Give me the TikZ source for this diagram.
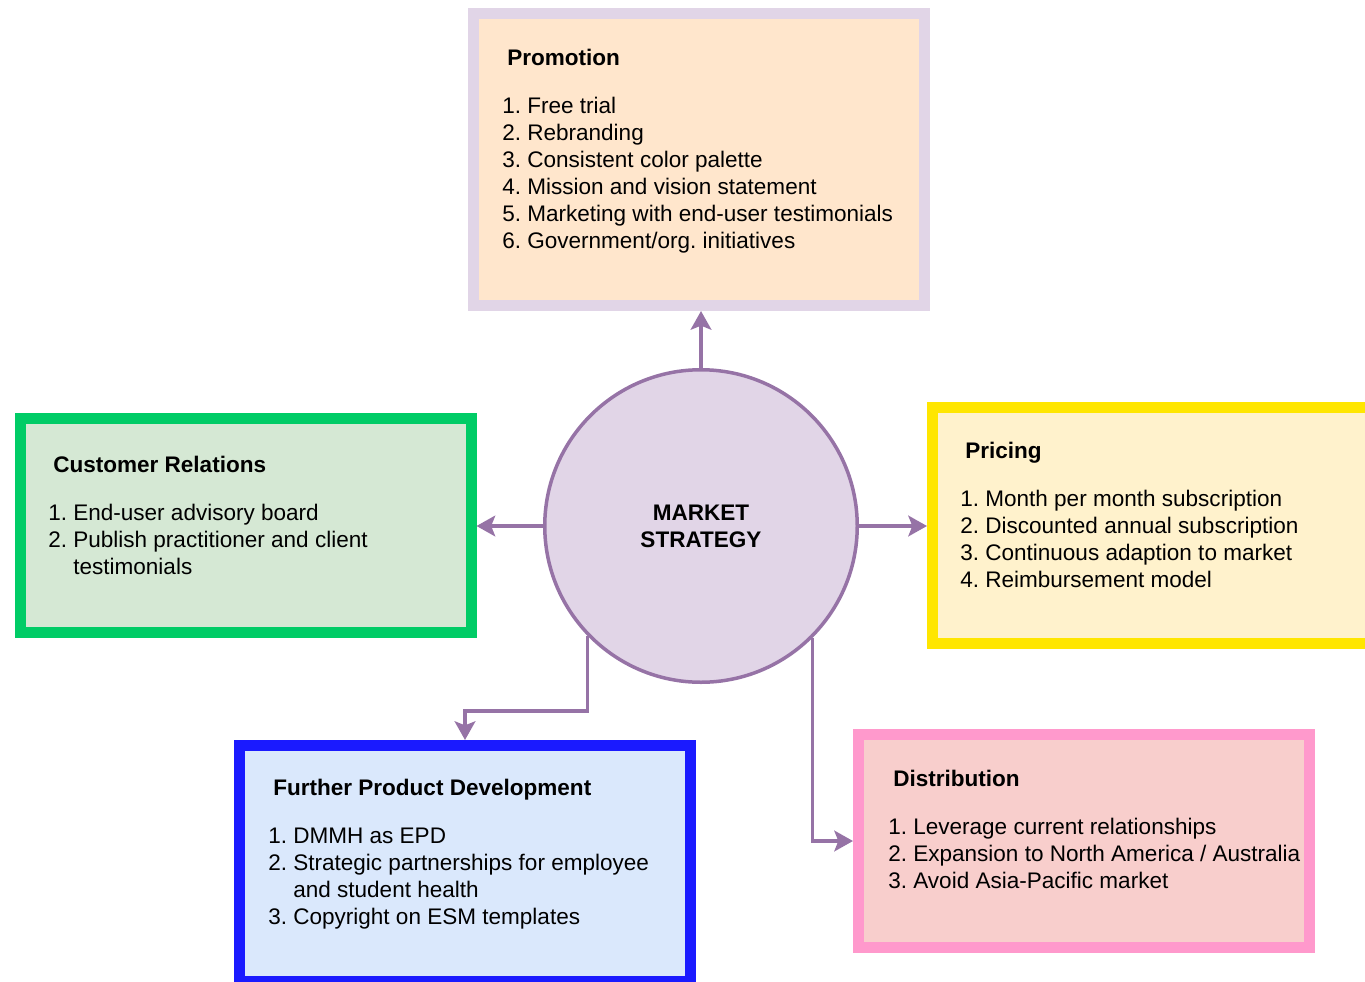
\documentclass[tikz,border=0pt]{standalone}
\usepackage{fontspec}
\setmainfont{Liberation Sans}
\usetikzlibrary{arrows.meta}
\newlength\pix
\setlength\pix{0.75pt}
\definecolor{lavender}{HTML}{E1D5E7}
\definecolor{plum}{HTML}{9673A6}
\definecolor{peach}{HTML}{FFE6CC}
\definecolor{mint}{HTML}{D5E8D4}
\definecolor{leaf}{HTML}{00CC66}
\definecolor{cream}{HTML}{FFF2CC}
\definecolor{lemon}{HTML}{FFE600}
\definecolor{sky}{HTML}{DAE8FC}
\definecolor{royal}{HTML}{1A1AFF}
\definecolor{rose}{HTML}{F8CECC}
\definecolor{pinkframe}{HTML}{FF99CC}
\tikzset{
  frame/.style={draw, line width=11\pix, inner sep=0pt, minimum width=451\pix},
  listtext/.style={anchor=north west, align=left, inner sep=0pt,
    font=\fontsize{16.9}{20.25}\selectfont\frenchspacing},
  hub/.style={circle, draw=plum, fill=lavender, line width=3.5\pix, inner sep=0pt,
    minimum size=312.5\pix, align=center, font=\fontsize{16.9}{20.25}\selectfont\bfseries},
  conn/.style={draw=plum, line width=3.5\pix, -{Stealth[length=14pt,width=15.5pt,inset=3pt]}}
}
\begin{document}
\begin{tikzpicture}[x=0.75pt, y=-0.75pt]
  \useasboundingbox (0,0) rectangle (1365,982);
  \clip (0,0) rectangle (1365,982);
  % boxes
  \node[frame, draw=lavender, fill=peach, minimum height=292\pix] (promo) at (699,159.5) {};
  \node[frame, draw=leaf, fill=mint, minimum height=214\pix] (custrel) at (245.5,525.5) {};
  \node[frame, draw=lemon, fill=cream, minimum height=236\pix] (pricing) at (1158,525.5) {};
  \node[frame, draw=royal, fill=sky, minimum height=236\pix] (fpd) at (465,863.5) {};
  \node[frame, draw=pinkframe, fill=rose, minimum height=213\pix] (dist) at (1084,841) {};
  \node[hub] (strat) at (701,526) {MARKET\\STRATEGY};
  % texts
  \node[listtext] (promotext) at (502,49) {\hspace*{3.75pt}\textbf{Promotion}\\[16pt]
    1. Free trial\\
    2. Rebranding\\
    3. Consistent color palette\\
    4. Mission and vision statement\\
    5. Marketing with end-user testimonials\\
    6. Government/org. initiatives};
  \node[listtext] (custreltext) at (48,456) {\hspace*{3.75pt}\textbf{Customer Relations}\\[16pt]
    1. End-user advisory board\\
    2. Publish practitioner and client\\
    \phantom{2.\ }testimonials};
  \node[listtext] (pricingtext) at (960,442) {\hspace*{3.75pt}\textbf{Pricing}\\[16pt]
    1. Month per month subscription\\
    2. Discounted annual subscription\\
    3. Continuous adaption to market\\
    4. Reimbursement model};
  \node[listtext] (fpdtext) at (268,779) {\hspace*{3.75pt}\textbf{Further Product Development}\\[16pt]
    1. DMMH as EPD\\
    2. Strategic partnerships for employee\\
    \phantom{2.\ }and student health\\
    3. Copyright on ESM templates};
  \node[listtext] (disttext) at (888,770) {\hspace*{3.75pt}\textbf{Distribution}\\[16pt]
    1. Leverage current relationships\\
    2. Expansion to North America / Australia\\
    3. Avoid Asia-Pacific market};
  % connectors
  \draw[conn] (strat.north) -- (strat.north |- promo.south);
  \draw[conn] (strat.west) -- (strat.west -| custrel.east);
  \draw[conn] (strat.east) -- (strat.east -| pricing.west);
  \draw[conn] (strat.224.6) -- ++(0,75) -| (fpd.north);
  \draw[conn] (strat.315.1) |- (dist.west);
\end{tikzpicture}
\end{document}
